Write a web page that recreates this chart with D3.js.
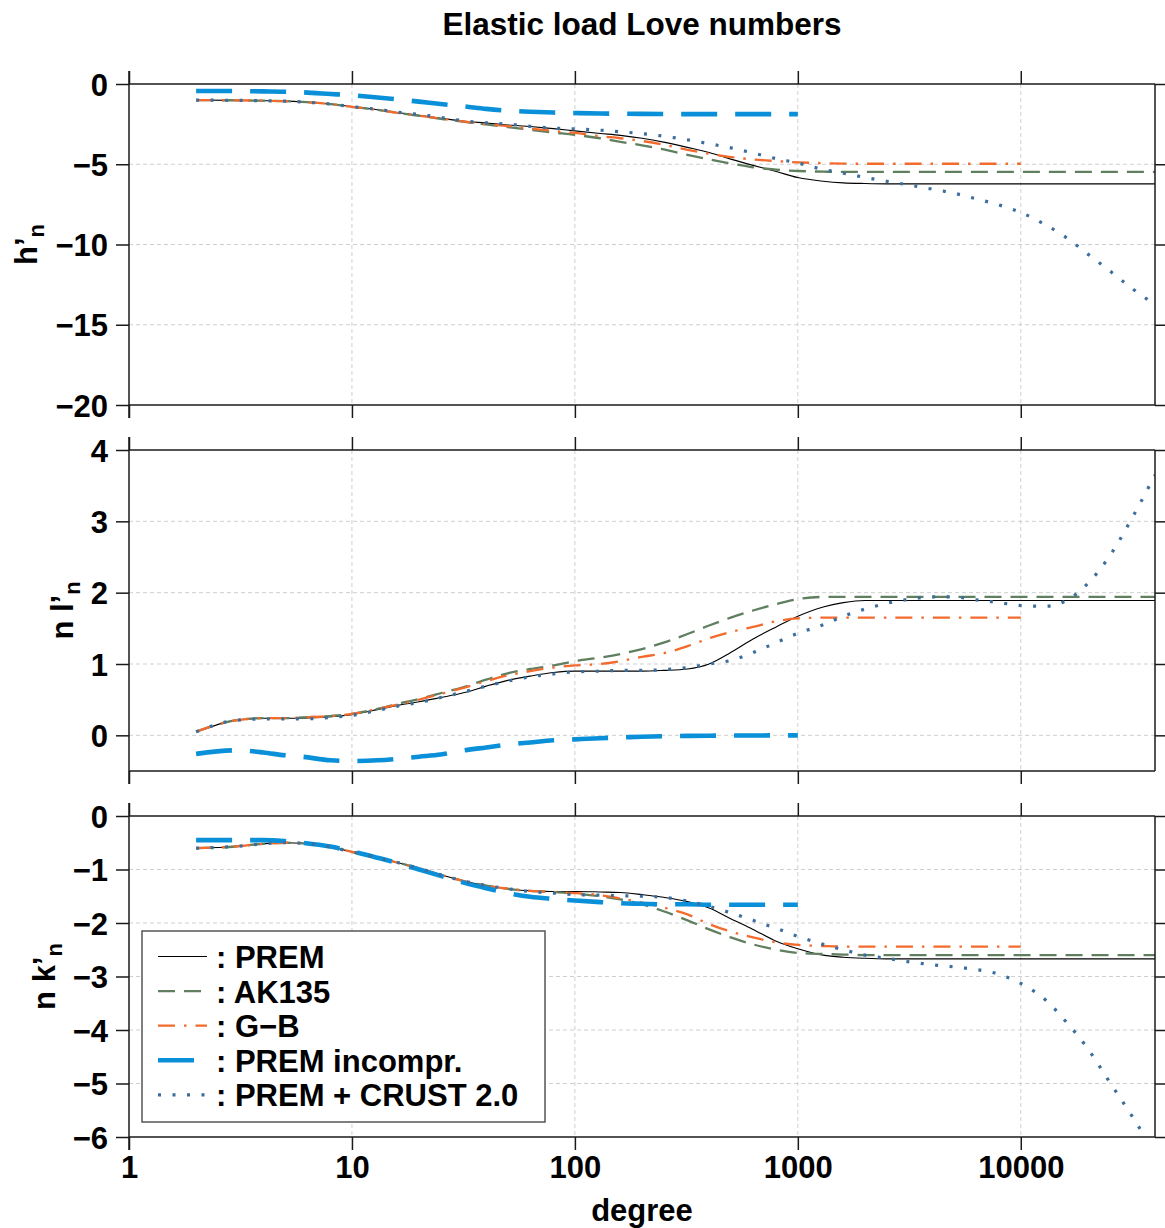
<!DOCTYPE html>
<html><head><meta charset="utf-8">
<script src="https://cdn.jsdelivr.net/npm/d3@7"></script>
<style>
body{margin:0;background:#fff}
svg{display:block}
text{font-family:"Liberation Sans",Arial,Helvetica,sans-serif;font-weight:bold;fill:#000}
</style>
</head><body>
<svg id="c" width="1165" height="1228"></svg>
<script>
// ---------- DATA ----------
const degrees = [2,3,4,5,6,8,10,13,16,20,25,32,40,50,63,80,100,130,160,200,250,320,400,500,630,800,1000,1300,1600,2000,2500,3200,4000,5000,6300,8000,10000,13000,16000,20000,25000,32000,40000];
const seriesNames = ["PREM","AK135","G−B","PREM incompr.","PREM + CRUST 2.0"];
const N = null;

// h'_n
const hPREM = [-1.00,-1.02,-1.04,-1.07,-1.12,-1.25,-1.41,-1.60,-1.78,-1.95,-2.13,-2.32,-2.43,-2.55,-2.65,-2.78,-2.92,-3.08,-3.20,-3.38,-3.62,-3.95,-4.27,-4.68,-5.07,-5.45,-5.83,-6.06,-6.16,-6.20,-6.22,-6.22,-6.22,-6.22,-6.22,-6.22,-6.22,-6.22,-6.22,-6.22,-6.22,-6.22,-6.22];
const hAK135 = [-1.00,-1.02,-1.04,-1.07,-1.12,-1.25,-1.42,-1.61,-1.80,-1.98,-2.17,-2.36,-2.52,-2.68,-2.85,-3.02,-3.17,-3.38,-3.60,-3.82,-4.08,-4.42,-4.70,-4.95,-5.19,-5.34,-5.42,-5.46,-5.48,-5.48,-5.48,-5.48,-5.48,-5.48,-5.48,-5.48,-5.48,-5.48,-5.48,-5.48,-5.48,-5.48,-5.48];
const hGB = [-1.00,-1.02,-1.04,-1.07,-1.12,-1.25,-1.42,-1.61,-1.80,-1.97,-2.15,-2.34,-2.50,-2.62,-2.78,-2.92,-3.05,-3.25,-3.38,-3.55,-3.78,-4.10,-4.35,-4.55,-4.70,-4.80,-4.88,-4.93,-4.96,-4.97,-4.97,-4.97,-4.97,-4.97,-4.97,-4.97,-4.97,N,N,N,N,N,N];
const hIncompr = [-0.44,-0.44,-0.46,-0.48,-0.52,-0.62,-0.70,-0.84,-0.96,-1.10,-1.25,-1.40,-1.55,-1.66,-1.73,-1.78,-1.81,-1.84,-1.85,-1.86,-1.87,-1.88,-1.88,-1.88,-1.88,-1.88,-1.88,N,N,N,N,N,N,N,N,N,N,N,N,N,N,N,N];
const hCrust = [-1.00,-1.02,-1.04,-1.07,-1.12,-1.25,-1.41,-1.58,-1.75,-1.90,-2.08,-2.30,-2.42,-2.50,-2.64,-2.75,-2.80,-2.88,-2.98,-3.09,-3.25,-3.48,-3.72,-3.98,-4.30,-4.65,-4.92,-5.33,-5.56,-5.82,-6.06,-6.31,-6.55,-6.80,-7.15,-7.54,-8.00,-8.80,-9.57,-10.60,-11.63,-12.80,-13.75];

// n l'_n
const lPREM = [0.05,0.21,0.24,0.24,0.24,0.26,0.29,0.36,0.42,0.47,0.53,0.60,0.69,0.77,0.83,0.88,0.90,0.90,0.90,0.90,0.91,0.93,1.00,1.16,1.35,1.52,1.67,1.80,1.86,1.89,1.89,1.89,1.89,1.89,1.89,1.89,1.89,1.89,1.89,1.89,1.89,1.89,1.89];
const lAK135 = [0.05,0.21,0.24,0.24,0.25,0.27,0.30,0.37,0.44,0.51,0.59,0.68,0.78,0.87,0.93,0.98,1.04,1.09,1.14,1.21,1.30,1.42,1.54,1.65,1.75,1.84,1.91,1.94,1.94,1.94,1.94,1.94,1.94,1.94,1.94,1.94,1.94,1.94,1.94,1.94,1.94,1.94,1.94];
const lGB = [0.05,0.21,0.24,0.24,0.25,0.27,0.30,0.37,0.43,0.50,0.58,0.67,0.76,0.84,0.90,0.95,0.98,1.00,1.04,1.10,1.15,1.25,1.36,1.45,1.52,1.60,1.64,1.65,1.65,1.65,1.65,1.65,1.65,1.65,1.65,1.65,1.65,N,N,N,N,N,N];
const lIncompr = [-0.26,-0.21,-0.24,-0.28,-0.30,-0.35,-0.36,-0.35,-0.33,-0.30,-0.27,-0.21,-0.17,-0.13,-0.10,-0.07,-0.056,-0.04,-0.03,-0.02,-0.013,-0.008,-0.005,-0.003,-0.002,-0.001,0.0,N,N,N,N,N,N,N,N,N,N,N,N,N,N,N,N];
const lCrust = [0.05,0.21,0.23,0.23,0.23,0.25,0.28,0.35,0.41,0.46,0.53,0.61,0.69,0.76,0.82,0.86,0.89,0.90,0.91,0.91,0.92,0.95,1.00,1.05,1.16,1.30,1.43,1.55,1.67,1.77,1.85,1.91,1.94,1.94,1.90,1.86,1.82,1.81,1.89,2.13,2.51,3.08,3.65];

// n k'_n
const kPREM = [-0.60,-0.57,-0.52,-0.50,-0.51,-0.58,-0.67,-0.78,-0.87,-0.98,-1.10,-1.22,-1.30,-1.36,-1.40,-1.41,-1.41,-1.42,-1.43,-1.47,-1.52,-1.60,-1.72,-1.92,-2.12,-2.34,-2.48,-2.60,-2.64,-2.66,-2.67,-2.67,-2.67,-2.67,-2.67,-2.67,-2.67,-2.67,-2.67,-2.67,-2.67,-2.67,-2.67];
const kAK135 = [-0.60,-0.57,-0.52,-0.50,-0.51,-0.58,-0.67,-0.78,-0.87,-0.98,-1.10,-1.22,-1.30,-1.36,-1.40,-1.42,-1.45,-1.50,-1.56,-1.65,-1.78,-1.95,-2.12,-2.27,-2.40,-2.50,-2.56,-2.58,-2.59,-2.60,-2.60,-2.60,-2.60,-2.60,-2.60,-2.60,-2.60,-2.60,-2.60,-2.60,-2.60,-2.60,-2.60];
const kGB = [-0.60,-0.57,-0.52,-0.50,-0.51,-0.58,-0.67,-0.78,-0.87,-0.98,-1.10,-1.22,-1.30,-1.36,-1.40,-1.42,-1.44,-1.48,-1.54,-1.62,-1.71,-1.84,-2.02,-2.16,-2.27,-2.36,-2.41,-2.43,-2.44,-2.44,-2.44,-2.44,-2.44,-2.44,-2.44,-2.44,-2.44,N,N,N,N,N,N];
const kIncompr = [-0.45,-0.45,-0.45,-0.47,-0.50,-0.57,-0.66,-0.78,-0.88,-1.00,-1.12,-1.25,-1.35,-1.44,-1.51,-1.55,-1.58,-1.61,-1.63,-1.64,-1.65,-1.65,-1.66,-1.66,-1.66,-1.66,-1.66,N,N,N,N,N,N,N,N,N,N,N,N,N,N,N,N];
const kCrust = [-0.60,-0.57,-0.52,-0.50,-0.51,-0.58,-0.67,-0.78,-0.87,-0.98,-1.10,-1.22,-1.30,-1.36,-1.41,-1.44,-1.47,-1.48,-1.49,-1.50,-1.52,-1.59,-1.69,-1.81,-1.95,-2.10,-2.25,-2.40,-2.50,-2.60,-2.66,-2.73,-2.78,-2.82,-2.87,-2.96,-3.13,-3.45,-3.85,-4.35,-4.97,-5.65,-6.30];

const xTicks = [1,10,100,1000,10000];
const hTicks = [0,-5,-10,-15,-20];
const lTicks = [0,1,2,3,4];
const kTicks = [0,-1,-2,-3,-4,-5,-6];

// ---------- STYLE ----------
const styles = [
  {color:"#000000", width:1.1, dash:null},
  {color:"#5f7f5f", width:2.3, dash:"17,9"},
  {color:"#f26b2d", width:2.3, dash:"17,9,2.5,9"},
  {color:"#0a90d8", width:4.6, dash:"36,18"},
  {color:"#3b6e9c", width:3.2, dash:"3,11.5"}
];

const svg = d3.select("#c");
const L = 129, R = 1155;
const x = d3.scaleLog().domain([1,40000]).range([L,R]);
const fmt = d3.format("d");
const frameColor = "#1a1a1a";

const panels = [
  {top:84, bottom:405, domain:[-20,0], ticks:hTicks, data:[hPREM,hAK135,hGB,hIncompr,hCrust], lab:"h’", lx:37},
  {top:450, bottom:771, domain:[-0.5,4], ticks:lTicks, data:[lPREM,lAK135,lGB,lIncompr,lCrust], lab:"n l’", lx:73},
  {top:816, bottom:1137, domain:[-6,0], ticks:kTicks, data:[kPREM,kAK135,kGB,kIncompr,kCrust], lab:"n k’", lx:55}
];

// title
svg.append("text").attr("x",642).attr("y",35).attr("text-anchor","middle")
  .style("font-size","31.5px").text("Elastic load Love numbers");

panels.forEach((p,pi)=>{
  const y = d3.scaleLinear().domain(p.domain).range([p.bottom,p.top]);
  const g = svg.append("g");
  const cid = "clip"+pi;
  svg.append("clipPath").attr("id",cid).append("rect")
    .attr("x",L).attr("y",p.top).attr("width",R-L).attr("height",p.bottom-p.top);

  // grid
  const grid = g.append("g").attr("stroke","#cfcfcf").attr("stroke-width",1).attr("stroke-dasharray","4,3");
  xTicks.filter(t=>t>1).forEach(t=>{
    grid.append("line").attr("x1",x(t)).attr("x2",x(t)).attr("y1",p.top).attr("y2",p.bottom);
  });
  p.ticks.forEach(t=>{
    const yy = y(t);
    if (Math.abs(yy-p.top)<1 || Math.abs(yy-p.bottom)<1) return;
    grid.append("line").attr("x1",L).attr("x2",R).attr("y1",yy).attr("y2",yy);
  });

  // series
  const line = d3.line()
    .defined(d=>d[1]!==null)
    .x(d=>x(d[0])).y(d=>y(d[1]))
    .curve(d3.curveMonotoneX);
  const lg = g.append("g").attr("clip-path",`url(#${cid})`);
  p.data.forEach((vals,si)=>{
    const st = styles[si];
    const pts = degrees.map((n,i)=>[n,vals[i]]);
    lg.append("path").attr("d",line(pts)).attr("fill","none")
      .attr("stroke",st.color).attr("stroke-width",st.width)
      .attr("stroke-dasharray",st.dash);
  });

  // axes
  const yAx = g.append("g").attr("transform",`translate(${L},0)`)
    .call(d3.axisLeft(y).tickValues(p.ticks).tickSize(13).tickPadding(8).tickFormat(fmt));
  yAx.select(".domain").remove();
  yAx.selectAll("line").attr("stroke",frameColor).attr("stroke-width",1.5);
  yAx.selectAll("text").style("font-size","31px").attr("fill","#000").attr("dy","0.36em");

  const yAxR = g.append("g").attr("transform",`translate(${R},0)`)
    .call(d3.axisRight(y).tickValues(p.ticks).tickSize(10).tickFormat(""));
  yAxR.select(".domain").remove();
  yAxR.selectAll("line").attr("stroke",frameColor).attr("stroke-width",1.5);

  const xTop = g.append("g").attr("transform",`translate(0,${p.top})`)
    .call(d3.axisTop(x).tickValues(xTicks).tickSize(13).tickFormat(""));
  xTop.select(".domain").remove();
  xTop.selectAll("line").attr("stroke",frameColor).attr("stroke-width",1.5);

  const xBot = g.append("g").attr("transform",`translate(0,${p.bottom})`)
    .call(d3.axisBottom(x).tickValues(xTicks).tickSize(13).tickPadding(6)
      .tickFormat(pi===2 ? fmt : ""));
  xBot.select(".domain").remove();
  xBot.selectAll("line").attr("stroke",frameColor).attr("stroke-width",1.5);
  xBot.selectAll("text").style("font-size","31px").attr("fill","#000");

  // frame lines
  const fr = g.append("g").attr("stroke",frameColor).attr("stroke-width",1.5);
  fr.append("line").attr("x1",L).attr("x2",L).attr("y1",p.top-13).attr("y2",p.bottom+13);
  fr.append("line").attr("x1",L).attr("x2",R).attr("y1",p.top).attr("y2",p.top);
  fr.append("line").attr("x1",L).attr("x2",R).attr("y1",p.bottom).attr("y2",p.bottom);
  fr.append("line").attr("x1",R).attr("x2",R).attr("y1",p.top).attr("y2",p.bottom);

  // y label
  const cy = (p.top+p.bottom)/2;
  const t = svg.append("text").attr("transform",`translate(${p.lx},${cy}) rotate(-90)`)
    .attr("text-anchor","middle").style("font-size","31px");
  t.append("tspan").text(p.lab);
  t.append("tspan").attr("dy",7).style("font-size","22px").text("n");
});

// x label
svg.append("text").attr("x",642).attr("y",1221).attr("text-anchor","middle")
  .style("font-size","31px").text("degree");

// legend
const lgd = svg.append("g");
lgd.append("rect").attr("x",142).attr("y",931).attr("width",403).attr("height",191)
  .attr("fill","#fff").attr("stroke","#555").attr("stroke-width",1.5);
seriesNames.forEach((name,i)=>{
  const base = 968 + i*34.6;
  const st = styles[i];
  lgd.append("line").attr("x1",158).attr("x2",207).attr("y1",base-11.5).attr("y2",base-11.5)
    .attr("stroke",st.color).attr("stroke-width",st.width).attr("stroke-dasharray",st.dash);
  lgd.append("text").attr("x",216).attr("y",base).style("font-size","31px").text(": "+name);
});
</script>
</body></html>
